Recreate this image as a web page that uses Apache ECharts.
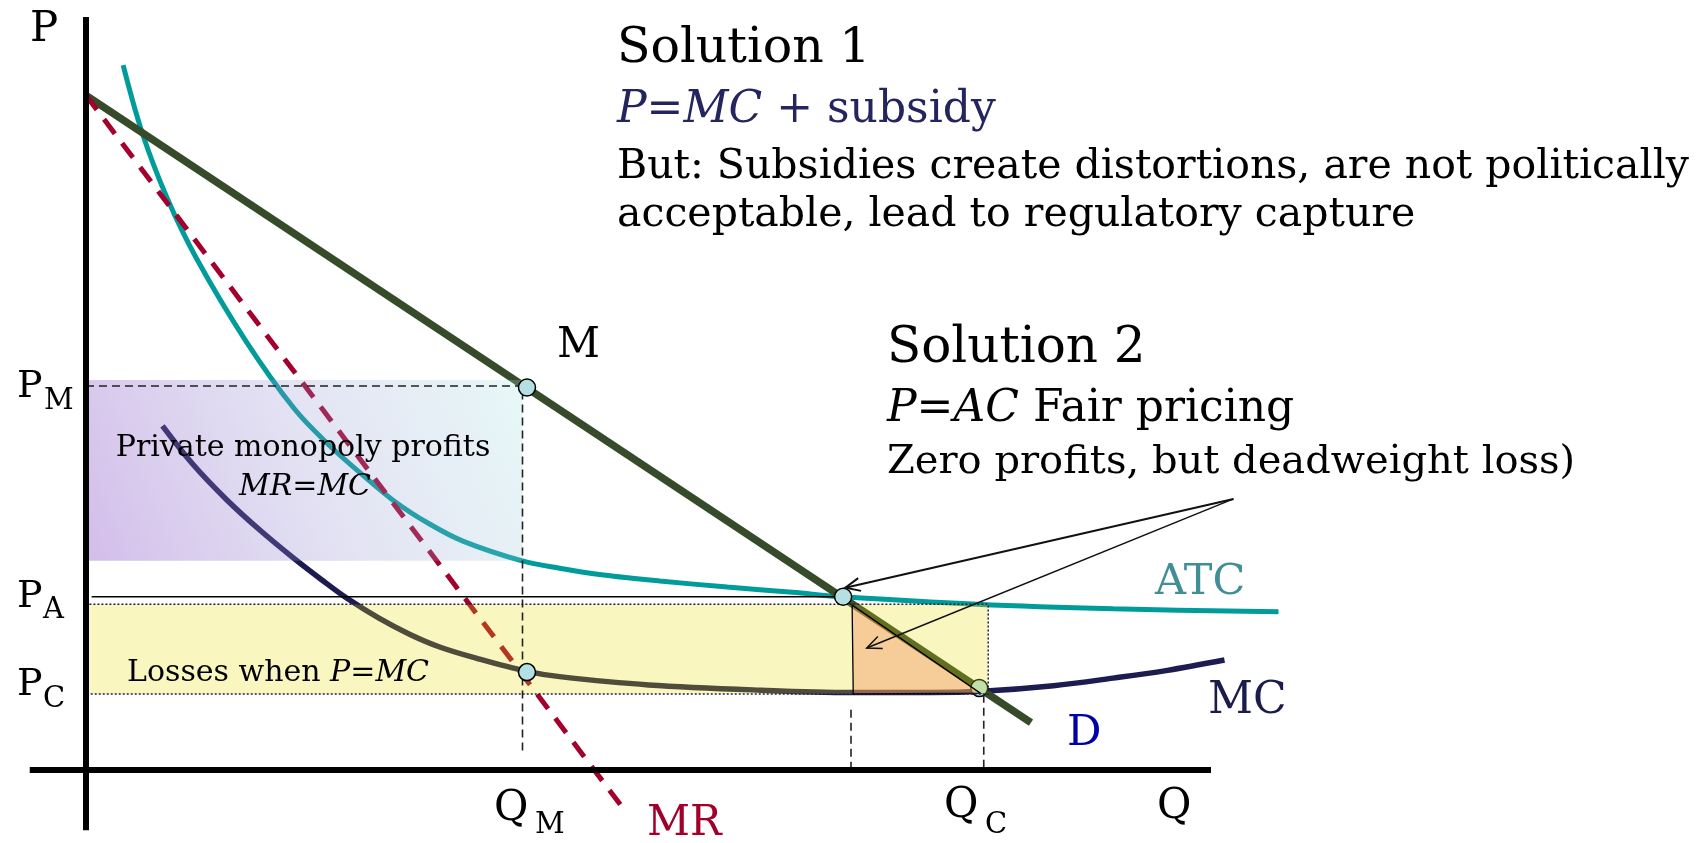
<!DOCTYPE html>
<html><head><meta charset="utf-8">
<script src="https://cdn.jsdelivr.net/npm/echarts@6/dist/echarts.min.js"></script>
<style>html,body{margin:0;padding:0;background:#fff}#c{width:1697px;height:843px}</style>
</head><body><div id="c"></div>
<script>
// ---- data in chart units: [Q, P] ----
const demand = [[0, 89.6], [84.0, 6.3]];
const marginalRevenue = [[0, 89.6], [48.0, -5.6]];
const atc = [[3.3, 93.6], [5.0, 84.6], [7.2, 76.0], [9.8, 68.0], [14.2, 57.0], [18.5, 48.0], [21.5, 43.3],
  [24.5, 39.3], [27.5, 35.6], [30.5, 32.7], [33.5, 30.4], [38.7, 27.8], [42.1, 26.8], [46.0, 25.9],
  [51.0, 25.1], [57.0, 24.3], [62.8, 23.6], [67.3, 23.0], [79.2, 22.0], [91.3, 21.4], [106.0, 21.0]];
const mc = [[6.8, 45.7], [9.5, 40.6], [12.5, 35.9], [15.5, 31.8], [18.4, 28.2], [21.0, 25.2], [23.2, 22.8],
  [26.0, 20.2], [28.8, 18.0], [31.5, 16.3], [34.8, 14.8], [39.2, 13.1], [42.1, 12.4], [50.0, 11.3],
  [60.0, 10.6], [68.0, 10.3], [75.0, 10.3], [80.0, 10.5], [86.0, 11.2], [91.3, 12.2], [96.0, 13.2], [101.2, 14.6]];
const qM = 38.8, qA = 68.0, qC = 79.8;
const pM = 51.0, pA = 23.0, pC = 10.1;
const profitBox = [0, 27.8, 38.8, 51.8];     // q0, p0, q1, p1
const lossBox = [0, 10.1, 80.2, 22.0];       // q0, p0, q1, p1
const dwlTriangle = [[68.1, 21.9], [68.2, 10.1], [79.5, 10.2]];
const keyPoints = [[39.2, 50.8], [39.2, 13.0], [67.3, 23.0]];
const coveredPoint = [[79.4, 10.9]];
const arrowFrom = [102.0, 36.0];
const arrowTips = [[67.5, 24.2], [69.4, 16.2]];
const qAxisRange = [-5, 100];
const pAxisRange = [-8, 100];
const priceTickLabels = ['M', 'A', 'C'];
const quantityTickLabels = ['M', 'C'];

const F = '"DejaVu Serif", serif';
const chart = echarts.init(document.getElementById('c'), null, {renderer: 'canvas'});

function rectItem(params, api) {
  const a = api.coord([api.value(0), api.value(3)]);
  const b = api.coord([api.value(2), api.value(1)]);
  return {type: 'rect', shape: {x: a[0], y: a[1], width: b[0] - a[0], height: b[1] - a[1]}, style: api.style()};
}
function arrowItem(params, api) {
  const a = api.coord([api.value(0), api.value(1)]);
  const b = api.coord([api.value(2), api.value(3)]);
  const ang = Math.atan2(b[1] - a[1], b[0] - a[0]);
  const L = 16, w = 0.42;
  const h1 = [b[0] - L * Math.cos(ang - w), b[1] - L * Math.sin(ang - w)];
  const h2 = [b[0] - L * Math.cos(ang + w), b[1] - L * Math.sin(ang + w)];
  const lw = params.dataIndex === 0 ? 2 : 1.5;
  return {type: 'group', children: [
    {type: 'line', shape: {x1: a[0], y1: a[1], x2: b[0], y2: b[1]}, style: {stroke: '#111', lineWidth: lw}},
    {type: 'polyline', shape: {points: [h1, b, h2]}, style: {stroke: '#111', lineWidth: lw, fill: null}}
  ]};
}

const dashStyle = {color: '#222', width: 1.6, type: [8, 5]};
const series = [
  {type: 'line', data: mc, smooth: 0.35, showSymbol: false, clip: false, z: 2,
   lineStyle: {color: '#1c1c50', width: 5.5}},
  {type: 'line', data: atc, smooth: 0.35, showSymbol: false, clip: false, z: 2,
   lineStyle: {color: '#009b9b', width: 5}},
  {type: 'line', data: demand, showSymbol: false, clip: false, z: 2,
   lineStyle: {color: '#354b2a', width: 7.5}},
  {type: 'line', data: marginalRevenue, showSymbol: false, clip: false, z: 2,
   lineStyle: {color: '#a3002b', width: 5, type: [18, 12], cap: 'butt'}},
  {type: 'scatter', data: coveredPoint, symbolSize: 17, clip: false, z: 3,
   itemStyle: {color: '#b5e0e3', borderColor: '#000', borderWidth: 1.5, opacity: 1}},
  {type: 'custom', renderItem: rectItem, data: [profitBox], clip: false, z: 4,
   itemStyle: {color: new echarts.graphic.LinearGradient(0, 1, 1, 0, [
     {offset: 0, color: 'rgba(140,80,200,0.38)'},
     {offset: 0.55, color: 'rgba(150,150,210,0.26)'},
     {offset: 1, color: 'rgba(160,225,225,0.25)'}])}},
  {type: 'custom', renderItem: rectItem, data: [lossBox], clip: false, z: 4,
   itemStyle: {color: 'rgba(230,220,0,0.25)'}},
  {type: 'line', clip: false, z: 5, showSymbol: false,
   data: [[lossBox[0] + 0.3, lossBox[3]], [lossBox[2], lossBox[3]], [lossBox[2], lossBox[1]], [lossBox[0] + 0.3, lossBox[1]]],
   lineStyle: {color: '#1e1e50', width: 1.5, type: [2, 2]}},
  {type: 'custom', clip: false, z: 5, data: [0],
   renderItem: function (params, api) {
     return {type: 'polygon', shape: {points: dwlTriangle.map(p => api.coord(p))},
       style: {fill: 'rgba(244,146,98,0.42)', stroke: '#000', lineWidth: 1.3}};
   }},
  {type: 'line', clip: false, z: 6, showSymbol: false, data: [[0, pM], [qM, pM], [qM, 2.0]], lineStyle: dashStyle},
  {type: 'line', clip: false, z: 6, showSymbol: false, data: [[qA, 8.0], [qA, 0]], lineStyle: dashStyle},
  {type: 'line', clip: false, z: 6, showSymbol: false, data: [[qC, 10.0], [qC, 0]], lineStyle: dashStyle},
  {type: 'line', clip: false, z: 6, showSymbol: false, data: [[0.5, pA], [67.3, pA]],
   lineStyle: {color: '#000', width: 1.6}},
  {type: 'scatter', data: keyPoints, symbolSize: 17, clip: false, z: 8,
   itemStyle: {color: '#b5e0e3', borderColor: '#000', borderWidth: 1.5, opacity: 1}},
  {type: 'custom', renderItem: arrowItem, clip: false, z: 9,
   data: arrowTips.map(t => [arrowFrom[0], arrowFrom[1], t[0], t[1]])},
  {type: 'line', clip: false, z: 10, showSymbol: false, data: [[qAxisRange[0], 0], [qAxisRange[1], 0]],
   lineStyle: {color: '#000', width: 6}},
  {type: 'line', clip: false, z: 10, showSymbol: false, data: [[0, pAxisRange[0]], [0, pAxisRange[1]]],
   lineStyle: {color: '#000', width: 6}}
];

function txt(x, cy, text, size, opts) {
  opts = opts || {};
  return {type: 'text', x: x, y: cy + 1, z: 100, silent: true,
    style: Object.assign({text: text, font: (opts.italic ? 'italic ' : '') + size + 'px ' + F,
      fill: opts.color || '#000', align: opts.align || 'left', verticalAlign: 'middle'}, opts.rich ? {rich: opts.rich} : {})};
}
const R = (size, color) => ({
  i: {fontStyle: 'italic', fontSize: size, fontFamily: 'DejaVu Serif', color: color},
  n: {fontSize: size, fontFamily: 'DejaVu Serif', color: color}
});

const graphic = [
  txt(30, 29, 'P', 42),
  txt(617, 48, 'Solution 1', 49),
  txt(617, 110, '{i|P=MC}{n| + subsidy}', 44, {color: '#24245e', rich: R(44, '#24245e')}),
  txt(617, 166, 'But: Subsidies create distortions, are not politically', 41),
  txt(617, 214, 'acceptable, lead to regulatory capture', 41),
  txt(887, 348, 'Solution 2', 50),
  txt(887, 409, '{i|P=AC}{n| Fair pricing}', 44, {rich: R(44, '#000')}),
  txt(887, 462, 'Zero profits, but deadweight loss)', 40),
  txt(303, 447, 'Private monopoly profits', 30, {align: 'center'}),
  txt(305, 486, 'MR=MC', 30, {align: 'center', italic: true}),
  txt(127, 672, '{n|Losses when }{i|P=MC}', 30, {rich: R(30, '#000')}),
  txt(557, 345, 'M', 42),
  txt(1155, 582, 'ATC', 43, {color: '#3f8f94'}),
  txt(1208, 701, 'MC', 44, {color: '#1c1c4c'}),
  txt(1067, 733, 'D', 43, {color: '#0000a8'}),
  txt(647, 823, 'MR', 42, {color: '#a0002a'}),
  txt(1157, 806, 'Q', 42),
  txt(494, 808, 'Q', 42), txt(535, 824, quantityTickLabels[0], 29),
  txt(944, 805, 'Q', 42), txt(985, 824, quantityTickLabels[1], 29),
  txt(17, 386, 'P', 38), txt(44, 400, priceTickLabels[0], 29),
  txt(17, 596, 'P', 38), txt(43, 609, priceTickLabels[1], 29),
  txt(17, 684, 'P', 38), txt(43, 698, priceTickLabels[2], 29)
];

chart.setOption({
  animation: false,
  backgroundColor: '#fff',
  grid: {left: 29.75, right: 36, top: 17, bottom: 12.76, containLabel: false},
  xAxis: {type: 'value', min: -5, max: 140, show: false},
  yAxis: {type: 'value', min: -8, max: 100, show: false},
  series: series,
  graphic: graphic
});
</script></body></html>
